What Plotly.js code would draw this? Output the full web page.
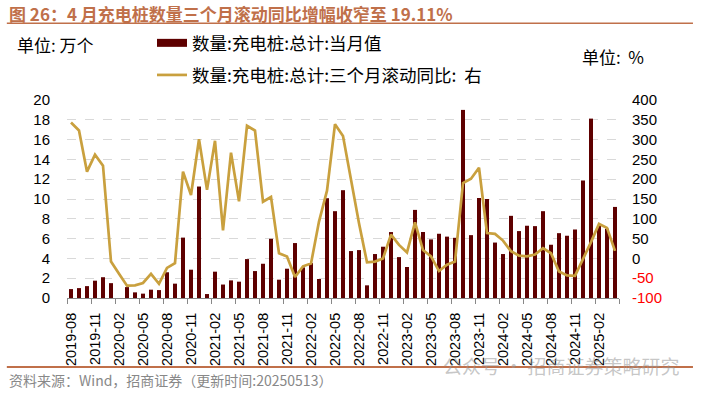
<!DOCTYPE html>
<html>
<head>
<meta charset="utf-8">
<script src="https://cdn.plot.ly/plotly-3.0.1.min.js"></script>
<style>
html,body{margin:0;padding:0;background:#fff;}
#chart{width:709px;height:394px;}
</style>
</head>
<body>
<div id="chart"></div>
<script>
// Months 2019-08 .. 2025-04
const months = [
"2019-08","2019-09","2019-10","2019-11","2019-12",
"2020-01","2020-02","2020-03","2020-04","2020-05","2020-06","2020-07","2020-08","2020-09","2020-10","2020-11","2020-12",
"2021-01","2021-02","2021-03","2021-04","2021-05","2021-06","2021-07","2021-08","2021-09","2021-10","2021-11","2021-12",
"2022-01","2022-02","2022-03","2022-04","2022-05","2022-06","2022-07","2022-08","2022-09","2022-10","2022-11","2022-12",
"2023-01","2023-02","2023-03","2023-04","2023-05","2023-06","2023-07","2023-08","2023-09","2023-10","2023-11","2023-12",
"2024-01","2024-02","2024-03","2024-04","2024-05","2024-06","2024-07","2024-08","2024-09","2024-10","2024-11","2024-12",
"2025-01","2025-02","2025-03","2025-04"
];
// 数量:充电桩:总计:当月值 (万个)
const monthlyValue = [
0.9,1.0,1.2,1.75,2.1,
1.5,0,1.1,0.57,0.44,0.84,0.8,2.6,1.45,6.1,2.86,11.26,
0.4,2.66,1.36,1.78,1.65,3.93,2.72,3.46,5.98,1.85,2.96,5.55,
3.09,3.53,1.92,10.08,8.77,10.89,4.74,4.84,1.28,4.44,5.18,6.66,
4.13,3.13,8.9,6.67,5.92,6.49,6.2,6.08,19.0,6.35,10.1,10.0,
5.6,4.44,8.3,6.76,7.3,7.26,8.77,5.38,6.55,6.29,6.92,11.87,
18.12,7.33,7.0,9.2
];
// 数量:充电桩:总计:三个月滚动同比 (%)
const rolling3mYoY = [
343,323,219,262,234,
-8,-39,-69,-68,-62,-39,-64,-24,-12,219,160,301,
173,297,71,267,144,335,323,143,155,13,5,-47,
-20,-13,93,171,339,309,194,89,-10,-8,0,60,
34,15,91,21,5,-32,-16,-8,190,201,229,64,
62,45,18,7,5,10,26,13,-33,-43,-44,-3,
41,87,77,19.11
];
const leftTicks = [0,2,4,6,8,10,12,14,16,18,20];
const rightTicks = [-100,-50,0,50,100,150,200,250,300,350,400];
const rightTickText = rightTicks.map(v => v < 0 ? '<span style="color:#FF0000">' + v + '</span>' : String(v));

const idx = months.map((m, i) => i);
const labelIdx = idx.filter(i => i % 3 === 0);
const labelText = labelIdx.map(i => months[i]);
const boundaryIdx = labelIdx.map(i => i - 0.5).concat([months.length - 0.5]);

const barColor = '#5E0000';
const lineColor = '#C9A03E';
const titleColor = '#C0704A';
const barName = '数量:充电桩:总计:当月值';
const lineName = '数量:充电桩:总计:三个月滚动同比:  右';

const traces = [
  {
    type: 'bar', x: idx, y: monthlyValue, name: barName,
    marker: {color: barColor}, showlegend: false, yaxis: 'y', xaxis: 'x'
  },
  { // legend key for the bars (wide swatch as in the reference)
    type: 'scatter', mode: 'lines', x: [null], y: [null], name: barName,
    line: {color: barColor, width: 8}, legend: 'legend', xaxis: 'x', yaxis: 'y', hoverinfo: 'skip'
  },
  {
    type: 'scatter', mode: 'lines', x: idx, y: rolling3mYoY, name: lineName,
    line: {color: lineColor, width: 2.7}, yaxis: 'y2', xaxis: 'x', legend: 'legend2'
  },
  {
    type: 'scatter', mode: 'lines', x: [], y: [], xaxis: 'x2', yaxis: 'y',
    showlegend: false, hoverinfo: 'skip'
  }
];

const fontTick = {family: 'Arial, Liberation Sans, sans-serif', size: 15, color: '#000'};
const cjk = '"Noto Sans CJK SC", "Noto Sans", sans-serif';

const layout = {
  width: 709, height: 394,
  margin: {l: 67, r: 90, t: 100, b: 96},
  paper_bgcolor: '#fff', plot_bgcolor: '#fff',
  showlegend: true,
  bargap: 0.5,
  xaxis: {
    range: [-0.5, months.length - 0.5],
    tickmode: 'array', tickvals: labelIdx, ticktext: labelText,
    tickangle: -90, ticks: '', showgrid: false, zeroline: false,
    showline: true, linecolor: '#888', linewidth: 1, ticklabelstandoff: 8,
    tickfont: {family: 'Arial, Liberation Sans, sans-serif', size: 14.5, color: '#000'},
    fixedrange: true
  },
  xaxis2: {
    overlaying: 'x', anchor: 'y', side: 'bottom',
    range: [-0.5, months.length - 0.5],
    tickmode: 'array', tickvals: boundaryIdx, ticktext: boundaryIdx.map(() => ''),
    ticks: 'outside', ticklen: 5, tickcolor: '#888', tickwidth: 1,
    showticklabels: false, showgrid: false, zeroline: false, showline: false
  },
  yaxis: {
    range: [0, 20], tickmode: 'array', tickvals: leftTicks,
    showgrid: true, gridcolor: '#D9D9D9', griddash: 'dash', gridwidth: 1,
    zeroline: false, showline: false, ticks: '', tickfont: fontTick, ticklabelstandoff: 16
  },
  yaxis2: {
    range: [-100, 400], overlaying: 'y', side: 'right',
    tickmode: 'array', tickvals: rightTicks, ticktext: rightTickText,
    showgrid: false, zeroline: false, showline: false, ticks: '', tickfont: fontTick,
    ticklabelstandoff: 12
  },
  legend: {
    x: 0.154, y: 1.288, xanchor: 'left', yanchor: 'middle',
    font: {family: cjk, size: 17.5, color: '#000'}, bgcolor: 'rgba(0,0,0,0)', itemwidth: 30
  },
  legend2: {
    x: 0.154, y: 1.126, xanchor: 'left', yanchor: 'middle',
    font: {family: cjk, size: 17.5, color: '#000'}, bgcolor: 'rgba(0,0,0,0)', itemwidth: 30
  },
  annotations: [
    {xref: 'paper', yref: 'paper', x: -0.094, y: 1.28, xanchor: 'left', yanchor: 'middle',
     text: '单位: 万个', showarrow: false, font: {family: cjk, size: 17, color: '#000'}},
    {xref: 'paper', yref: 'paper', x: 0.93, y: 1.22, xanchor: 'left', yanchor: 'middle',
     text: '单位:  %', showarrow: false, font: {family: cjk, size: 17, color: '#000'}},
    {xref: 'paper', yref: 'paper', x: -0.109, y: 1.435, xanchor: 'left', yanchor: 'middle',
     text: '<b>图 26：4 月充电桩数量三个月滚动同比增幅收窄至 19.11%</b>', showarrow: false,
     font: {family: cjk, size: 17, color: titleColor}},
    {xref: 'paper', yref: 'paper', x: -0.109, y: -0.415, xanchor: 'left', yanchor: 'middle',
     text: '资料来源：Wind，招商证券（更新时间:20250513）', showarrow: false,
     font: {family: cjk, size: 14, color: '#888'}},
    {xref: 'paper', yref: 'paper', x: 0.895, y: -0.34, xanchor: 'center', yanchor: 'middle',
     text: '公众号 · 招商证券策略研究', showarrow: false,
     font: {family: cjk, size: 19, color: 'rgba(150,150,150,0.55)'}}
  ],
  shapes: [
    {type: 'line', xref: 'paper', yref: 'paper', x0: -0.109, x1: 1.134, y0: 1.387, y1: 1.387,
     line: {color: titleColor, width: 1.5}},
    {type: 'line', xref: 'paper', yref: 'paper', x0: -0.109, x1: 1.134, y0: -0.348, y1: -0.348,
     line: {color: titleColor, width: 2}}
  ]
};

Plotly.newPlot('chart', traces, layout, {displayModeBar: false, staticPlot: true});
</script>
</body>
</html>
